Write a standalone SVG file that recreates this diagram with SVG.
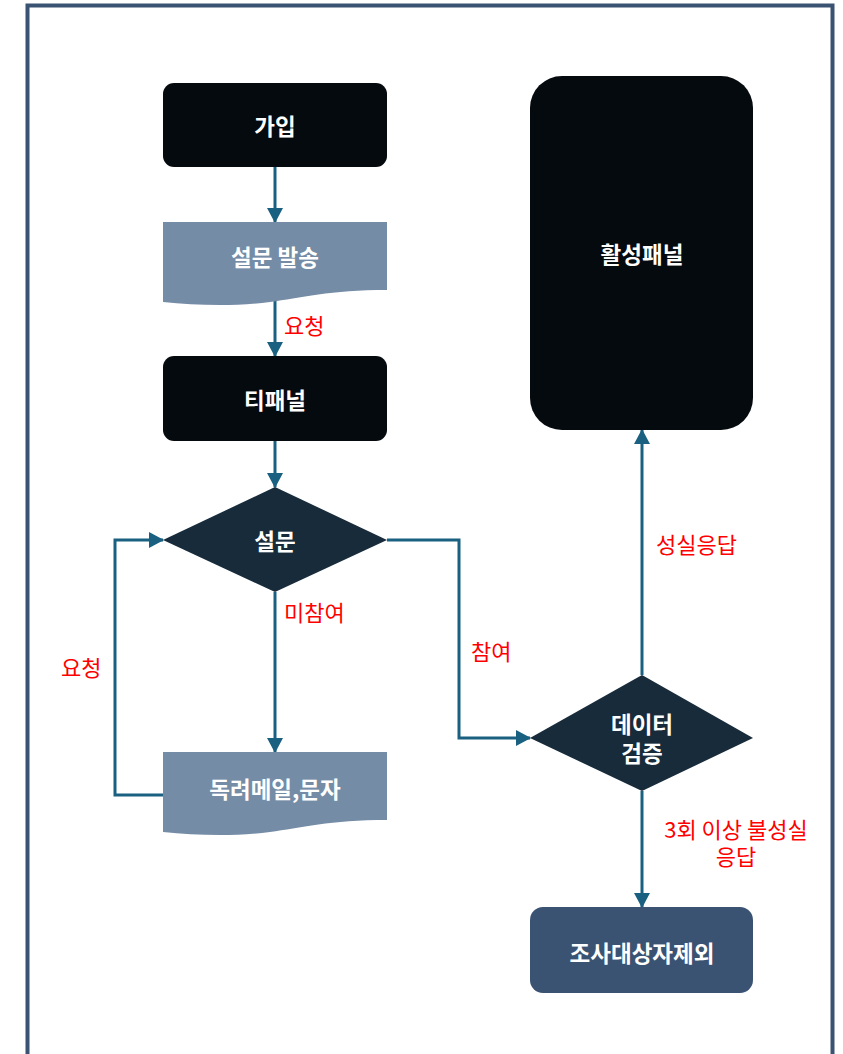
<svg xmlns="http://www.w3.org/2000/svg" width="843" height="1054" viewBox="0 0 843 1054">
<style>
.lbl{font-family:"Noto Sans CJK KR","Noto Sans",sans-serif;font-size:22px;fill:#ff0000}
.nt{font-family:"Noto Sans CJK KR","Noto Sans",sans-serif;font-size:22.5px;font-weight:bold;fill:#ffffff;text-anchor:middle;dominant-baseline:central}
.dark{fill:#050a0e}
.dia{fill:#172b3b}
.doc{fill:#758ca6}
.box{fill:#3b5372}
.con{fill:none;stroke:#1a6080;stroke-width:3;marker-end:url(#arr)}
</style>
<defs>
<marker id="arr" markerUnits="userSpaceOnUse" markerWidth="16" markerHeight="16" refX="14" refY="8" orient="auto">
<path d="M0,0 L15,8 L0,16 Z" fill="#1a6080"/>
</marker>
</defs>
<rect x="27.5" y="5.5" width="805" height="1100" fill="#ffffff" stroke="#3b5372" stroke-width="4"/>
<g id="connectors">
<path class="con" d="M275,167 V222"/>
<path class="con" d="M275,300 V356"/>
<path class="con" d="M275,441 V487"/>
<path class="con" d="M275,592 V752"/>
<path class="con" d="M163,795 H115 V540 H163"/>
<path class="con" d="M387,540 H459 V738 H530"/>
<path class="con" d="M642,675 V430"/>
<path class="con" d="M642,791 V907"/>
</g>
<g id="labels">
<text class="lbl" x="284" y="334">요청</text>
<text class="lbl" x="284" y="621">미참여</text>
<text class="lbl" x="61" y="676">요청</text>
<text class="lbl" x="471" y="660">참여</text>
<text class="lbl" x="656" y="553">성실응답</text>
<text class="lbl" text-anchor="middle"><tspan x="736" y="838">3회 이상 불성실</tspan><tspan x="736" y="865">응답</tspan></text>
</g>
<g id="join">
<rect class="dark" x="163" y="83" width="224" height="84" rx="11"/>
<text class="nt" x="275" y="125">가입</text>
</g>
<g id="send">
<path class="doc" d="M163,222 H387 V290 C330,290 300,298 270,302 C230,307 195,305 163,302 Z"/>
<text class="nt" x="275" y="256">설문 발송</text>
</g>
<g id="tpanel">
<rect class="dark" x="163" y="356" width="224" height="85" rx="11"/>
<text class="nt" x="275" y="399">티패널</text>
</g>
<g id="survey">
<path class="dia" d="M275,487 L387,540 L275,592 L163,540 Z"/>
<text class="nt" x="275" y="540">설문</text>
</g>
<g id="remind">
<path class="doc" d="M163,752 H387 V820 C330,820 300,828 270,832 C230,837 195,835 163,832 Z"/>
<text class="nt" x="275" y="788">독려메일,문자</text>
</g>
<g id="active">
<rect class="dark" x="530" y="76" width="223" height="354" rx="32"/>
<text class="nt" x="642" y="253">활성패널</text>
</g>
<g id="verify">
<path class="dia" d="M642,675 L753,738 L642,791 L530,738 Z"/>
<text class="nt"><tspan x="642" y="723">데이터</tspan><tspan x="642" y="752">검증</tspan></text>
</g>
<g id="exclude">
<rect class="box" x="530" y="907" width="223" height="86" rx="13"/>
<text class="nt" x="642" y="952">조사대상자제외</text>
</g>
</svg>
